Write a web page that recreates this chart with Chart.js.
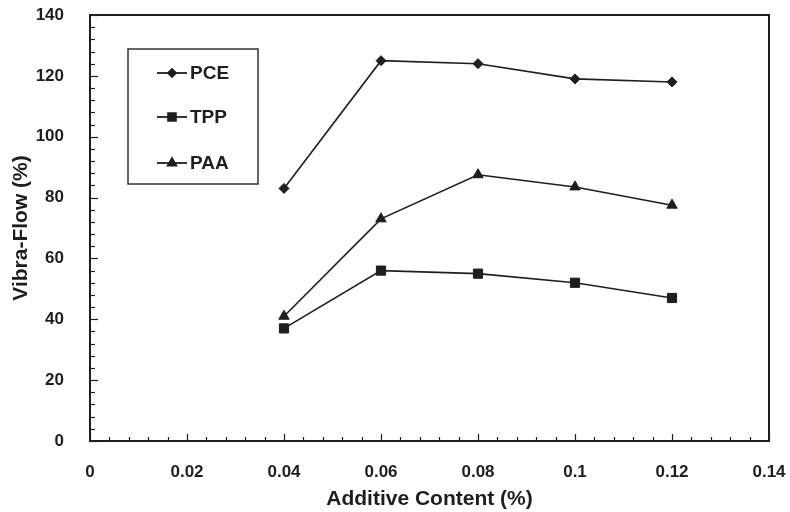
<!DOCTYPE html>
<html>
<head>
<meta charset="utf-8">
<title>Vibra-Flow vs Additive Content</title>
<script src="https://cdn.jsdelivr.net/npm/chart.js@4.4.1/dist/chart.umd.min.js"></script>
<style>
  body { margin: 0; background: #fff; }
  #wrap { width: 790px; height: 512px; }
</style>
</head>
<body>
<div id="wrap"><canvas id="chart" width="790" height="512"></canvas></div>
<script>
// values
const additive = [0.04, 0.06, 0.08, 0.1, 0.12];
const pce = [83, 125, 124, 119, 118];
const tpp = [37, 56, 55, 52, 47];
const paa = [41, 73, 87.5, 83.5, 77.5];
const seriesNames = ['PCE', 'TPP', 'PAA'];
const xTicks = [0, 0.02, 0.04, 0.06, 0.08, 0.1, 0.12, 0.14];
const yTicks = [0, 20, 40, 60, 80, 100, 120, 140];

const ink = '#1e1e1e';
const fontFamily = '"Liberation Sans", Arial, sans-serif';

const toPoints = vals => vals.map((v, i) => ({ x: additive[i], y: v }));

// box around the plot + inward major/minor tick marks (minor = major / 5)
const framePlugin = {
  id: 'frame',
  beforeDatasetsDraw(chart) {
    const { ctx, chartArea: a, scales: { x, y } } = chart;
    ctx.save();
    ctx.strokeStyle = ink;
    ctx.lineWidth = 1.2;
    const xStep = (xTicks[1] - xTicks[0]) / 5;
    for (let i = 0; i <= (xTicks.length - 1) * 5; i++) {
      const px = Math.round(x.getPixelForValue(i * xStep)) + 0.5;
      const len = i % 5 === 0 ? 7 : 4;
      ctx.beginPath();
      ctx.moveTo(px, a.bottom);
      ctx.lineTo(px, a.bottom - len);
      ctx.stroke();
    }
    const yStep = (yTicks[1] - yTicks[0]) / 5;
    for (let i = 0; i <= (yTicks.length - 1) * 5; i++) {
      const py = Math.round(y.getPixelForValue(i * yStep)) + 0.5;
      const len = i % 5 === 0 ? 8 : 5;
      ctx.beginPath();
      ctx.moveTo(a.left, py);
      ctx.lineTo(a.left + len, py);
      ctx.stroke();
    }
    ctx.lineWidth = 2;
    ctx.strokeRect(a.left, a.top, a.right - a.left, a.bottom - a.top);
    ctx.restore();
  }
};

// legend box sitting inside the plot, top-left
const boxLegend = {
  id: 'boxLegend',
  afterDatasetsDraw(chart) {
    const { ctx, chartArea: a } = chart;
    const bx = a.left + 38, by = a.top + 34;
    const rows = [24, 68, 114];
    ctx.save();
    ctx.fillStyle = '#fff';
    ctx.fillRect(bx, by, 130, 135);
    ctx.strokeStyle = '#333';
    ctx.lineWidth = 1.5;
    ctx.strokeRect(bx, by, 130, 135);
    chart.data.datasets.forEach((ds, i) => {
      const ry = by + rows[i];
      ctx.strokeStyle = ink;
      ctx.fillStyle = ink;
      ctx.lineWidth = 1.8;
      ctx.beginPath();
      ctx.moveTo(bx + 29, ry);
      ctx.lineTo(bx + 59, ry);
      ctx.stroke();
      Chart.helpers.drawPoint(ctx, {
        pointStyle: ds.pointStyle, radius: ds.pointRadius - 1, rotation: 0, borderWidth: 1
      }, bx + 44, ry);
      ctx.font = 'bold 19px ' + fontFamily;
      ctx.textBaseline = 'middle';
      ctx.textAlign = 'left';
      ctx.fillText(ds.label, bx + 62, ry + 1);
    });
    ctx.restore();
  }
};

const seriesStyle = (label, vals, style, r) => ({
  label: label,
  data: toPoints(vals),
  borderColor: ink,
  borderWidth: 1.6,
  pointStyle: style,
  pointRadius: r,
  pointBackgroundColor: ink,
  pointBorderColor: ink,
  pointBorderWidth: 1,
  tension: 0
});

new Chart(document.getElementById('chart'), {
  type: 'line',
  data: {
    datasets: [
      seriesStyle(seriesNames[0], pce, 'rectRot', 5),
      seriesStyle(seriesNames[1], tpp, 'rect', 6.5),
      seriesStyle(seriesNames[2], paa, 'triangle', 6)
    ]
  },
  options: {
    responsive: false,
    animation: false,
    layout: { padding: { top: 15, right: 21, left: 0, bottom: 0 } },
    plugins: { legend: { display: false }, tooltip: { enabled: false } },
    scales: {
      x: {
        type: 'linear',
        min: xTicks[0],
        max: xTicks[xTicks.length - 1],
        afterFit: s => {
          s.height = 71;
          s.paddingLeft = 0;
          s.paddingRight = 0;
        },
        afterBuildTicks: s => { s.ticks = xTicks.map(v => ({ value: v })); },
        grid: { display: false },
        border: { display: false },
        ticks: {
          autoSkip: false,
          maxRotation: 0,
          padding: 13,
          color: ink,
          font: { family: fontFamily, size: 17, weight: 'bold' },
          callback: v => String(+v.toFixed(2))
        },
        title: {
          display: true,
          text: 'Additive Content (%)',
          color: ink,
          padding: { top: 0, bottom: 0 },
          font: { family: fontFamily, size: 21, weight: 'bold' }
        }
      },
      y: {
        min: yTicks[0],
        max: yTicks[yTicks.length - 1],
        afterFit: s => {
          s.width = 90;
          s.paddingTop = 0;
          s.paddingBottom = 0;
        },
        afterBuildTicks: s => { s.ticks = yTicks.map(v => ({ value: v })); },
        grid: { display: false },
        border: { display: false },
        ticks: {
          padding: 18,
          color: ink,
          font: { family: fontFamily, size: 17, weight: 'bold' }
        },
        title: {
          display: true,
          text: 'Vibra-Flow (%)',
          color: ink,
          padding: { top: 9, bottom: 0 },
          font: { family: fontFamily, size: 21, weight: 'bold' }
        }
      }
    }
  },
  plugins: [framePlugin, boxLegend]
});
</script>
</body>
</html>
